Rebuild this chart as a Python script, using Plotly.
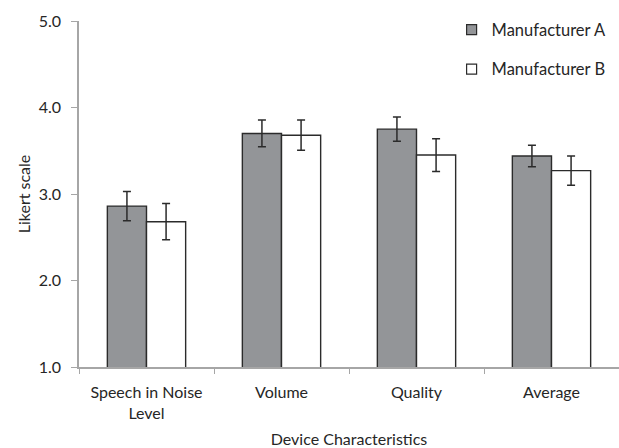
import plotly.graph_objects as go

# Device characteristic ratings (mean Likert score with error bar half-widths)
categories = ["Speech in Noise<br>Level", "Volume", "Quality", "Average"]
mfr_a = [2.86, 3.70, 3.75, 3.44]
mfr_a_err = [0.17, 0.155, 0.14, 0.125]
mfr_b = [2.68, 3.68, 3.45, 3.27]
mfr_b_err = [0.21, 0.175, 0.19, 0.17]
y_ticks = [1.0, 2.0, 3.0, 4.0, 5.0]
series_names = ["Manufacturer A", "Manufacturer B"]
series_fill = ["#939598", "#ffffff"]

FONT = "Lato, Carlito, Calibri, sans-serif"
TEXT = "#262626"
AXIS = "#a6a6a6"
EDGE = "#2b2b2b"
FS = 16

fig = go.Figure()
for vals, errs, name, fill in zip([mfr_a, mfr_b], [mfr_a_err, mfr_b_err],
                                  series_names, series_fill):
    fig.add_trace(go.Bar(
        x=categories, y=vals, name=name, showlegend=False,
        marker=dict(color=fill, line=dict(color=EDGE, width=1.4)),
        error_y=dict(type="data", array=errs, color=EDGE, thickness=1.5, width=4),
    ))

# Legend keys: small outlined squares
for i, (name, fill) in enumerate(zip(series_names, series_fill)):
    fig.add_trace(go.Scatter(
        x=[None], y=[None], mode="markers", name=name, legendgroup=f"g{i}",
        marker=dict(symbol="square", size=10, color=fill,
                    line=dict(color=EDGE, width=1.2)),
    ))

fig.update_layout(
    width=619, height=448,
    margin=dict(l=79, r=0, t=21, b=81),
    paper_bgcolor="white", plot_bgcolor="white",
    barmode="group", bargap=0.42, bargroupgap=0,
    font=dict(family=FONT, size=FS, color=TEXT),
    showlegend=True,
    legend=dict(
        x=0.69, y=1.025, xanchor="left", yanchor="top",
        font=dict(family=FONT, size=16.5, color=TEXT),
        tracegroupgap=15, itemwidth=30, bgcolor="rgba(0,0,0,0)",
    ),
    xaxis=dict(
        showline=True, linecolor=AXIS, linewidth=1.5,
        ticks="outside", tickson="boundaries", ticklen=5, tickcolor=AXIS,
        showgrid=False, tickfont=dict(size=FS, color=TEXT),
        ticklabelstandoff=10,
        title=dict(text="Device Characteristics", standoff=13,
                   font=dict(size=FS, color=TEXT)),
    ),
    yaxis=dict(
        range=[1, 5], tickvals=y_ticks, tickformat=".1f",
        showline=True, linecolor=AXIS, linewidth=1.5,
        ticks="outside", ticklen=6, tickcolor=AXIS,
        ticklabelstandoff=7,
        showgrid=False, zeroline=False, tickfont=dict(size=FS, color=TEXT),
        title=dict(text="Likert scale", standoff=4,
                   font=dict(size=FS, color=TEXT)),
    ),
)

fig.write_html("out.html")
